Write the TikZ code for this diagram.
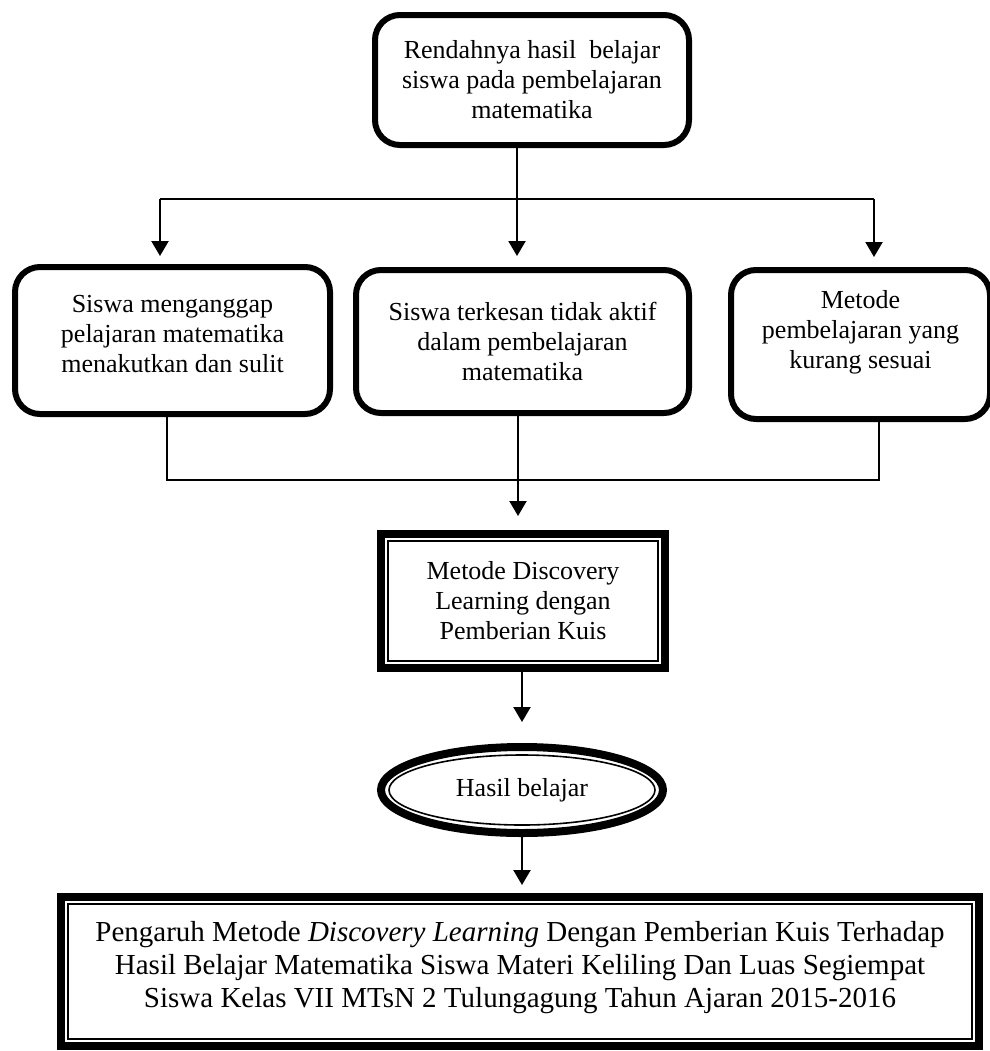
\documentclass[tikz,border=0pt]{standalone}
\usepackage{fontspec}
\setmainfont{Liberation Serif}
\usetikzlibrary{arrows.meta, shapes.geometric}
\begin{document}
\begin{tikzpicture}[x=0.5pt, y=-0.5pt, >={Triangle[length=7.5pt, width=8.5pt]},
	every node/.style={font=\fontsize{13pt}{15pt}\selectfont, align=center, inner sep=0pt, outer sep=0pt},
	rbox/.style={draw, line width=3pt, rounded corners=12.5pt},
	fbox/.style={draw, line width=4pt},
	link/.style={line width=1.1pt}]
	\useasboundingbox (0,0) rectangle (990,1051);
	
	% 1. 顶部问题框
	\node[rbox, minimum width=157pt, minimum height=65pt] (rendah) at (532,80) {Rendahnya hasil\ \ belajar\\ siswa pada pembelajaran\\ matematika};
	
	% 2. 三个原因框 (文字略偏上)
	\node[rbox, minimum width=157.5pt, minimum height=73.5pt, text depth=7pt] (takut) at (172.5,340.5) {Siswa menganggap\\ pelajaran matematika\\ menakutkan dan sulit};
	\node[rbox, minimum width=166.5pt, minimum height=71.5pt] (pasif) at (522.5,341.5) {Siswa terkesan tidak aktif\\ dalam pembelajaran\\ matematika};
	\node[rbox, minimum width=129.5pt, minimum height=74.5pt, text depth=15pt] (metode) at (860.5,344.5) {Metode\\ pembelajaran yang\\ kurang sesuai};
	
	% 3. 方法框、结果椭圆与标题框 (粗线外框 + 细线内框)
	\node[fbox, minimum width=142pt, minimum height=67pt] (discovery) at (523,601) {Metode Discovery\\ Learning dengan\\ Pemberian Kuis};
	\draw[line width=0.8pt] ([shift={(7,7)}]discovery.north west) rectangle ([shift={(-7,-7)}]discovery.south east);
	
	\node[fbox, ellipse, minimum width=141pt, minimum height=43pt] (hasil) at (522,790) {Hasil belajar};
	\draw[line width=0.8pt] (hasil.center) ellipse [x radius=66.5pt, y radius=17.5pt];
	
	\node[fbox, minimum width=459pt, minimum height=74.5pt, text depth=7pt, font=\fontsize{14.5pt}{16.7pt}\selectfont] (judul) at (520,971.5) {Pengaruh Metode \textit{Discovery Learning} Dengan Pemberian Kuis Terhadap\\ Hasil Belajar Matematika Siswa Materi Keliling Dan Luas Segiempat\\ Siswa Kelas VII MTsN 2 Tulungagung Tahun Ajaran 2015-2016};
	\draw[line width=0.8pt] ([shift={(7,7)}]judul.north west) rectangle ([shift={(-7,-7)}]judul.south east);
	
	% 4. 分支连线
	\coordinate (atasL) at (160,199);
	\coordinate (atasM) at (517,199);
	\coordinate (atasR) at (874,199);
	\draw[link] (atasL) -- (atasR);
	\draw[link, ->, shorten >=5.5pt] (atasL) -- (atasL |- takut.north);
	\draw[link, ->, shorten >=6.5pt] (atasR) -- (atasR |- metode.north);
	\draw[link, ->, shorten >=7pt] (rendah.south -| atasM) -- (atasM |- pasif.north);
	
	\coordinate (bawahL) at (167,480);
	\coordinate (bawahM) at (518,480);
	\coordinate (bawahR) at (879,480);
	\draw[link] (takut.south -| bawahL) -- (bawahL) -- (bawahR) -- (metode.south -| bawahR);
	\draw[link, ->, shorten >=9pt] (pasif.south -| bawahM) -- (bawahM |- discovery.north);
	
	% 5. 纵向主线
	\draw[link, ->, shorten >=12.5pt] (discovery.south -| hasil.north) -- (hasil.north);
	\draw[link, ->, shorten >=6pt] (hasil.south) -- (hasil.south |- judul.north);
\end{tikzpicture}
\end{document}
